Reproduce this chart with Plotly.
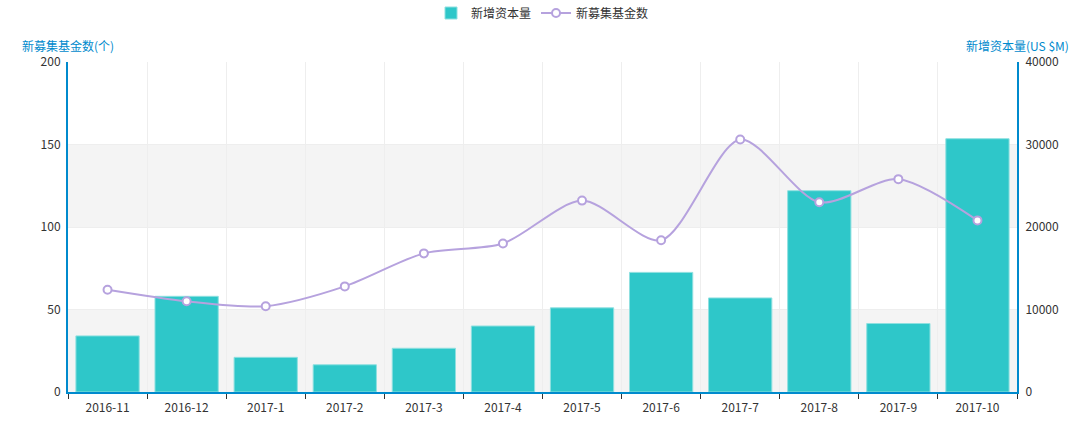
import plotly.graph_objects as go

categories = ["2016-11", "2016-12", "2017-1", "2017-2", "2017-3", "2017-4",
              "2017-5", "2017-6", "2017-7", "2017-8", "2017-9", "2017-10"]
capital = [6800, 11600, 4200, 3300, 5300, 8000, 10200, 14500, 11400, 24400, 8300, 30700]
fund_count = [62, 55, 52, 64, 84, 90, 116, 92, 153, 115, 129, 104]

bar_name = "新增资本量"
line_name = "新募集基金数"
left_title = "新募集基金数(个)"
right_title = "新增资本量(US $M)"

FONT = "Noto Sans CJK SC, Open Sans, sans-serif"
AXIS_BLUE = "#008acd"

fig = go.Figure()
fig.add_trace(go.Bar(
    x=categories, y=capital, name=bar_name, yaxis="y",
    marker=dict(color="#2ec7c9", line=dict(color="#8fe0e0", width=1)),
))
fig.add_trace(go.Scatter(
    x=categories, y=fund_count, name=line_name, yaxis="y2",
    mode="lines+markers",
    line=dict(color="#b6a2de", width=2, shape="spline", smoothing=0.8),
    marker=dict(symbol="circle", size=8, color="white",
                line=dict(color="#b6a2de", width=2)),
))

shapes = []
for lo, hi in [(0, 10000), (20000, 30000)]:
    shapes.append(dict(type="rect", xref="paper", yref="y", x0=0, x1=1,
                       y0=lo, y1=hi, fillcolor="#f4f4f4", line=dict(width=0),
                       layer="below"))

fig.update_layout(
    width=1083, height=437,
    margin=dict(l=68, r=66, t=62, b=45, autoexpand=False),
    paper_bgcolor="white", plot_bgcolor="white",
    font=dict(family=FONT, size=12, color="#333"),
    bargap=0.2,
    showlegend=True,
    legend=dict(orientation="h", x=0.5, xanchor="center",
                yref="container", y=1 - 13 / 437, yanchor="middle",
                font=dict(size=12, color="#333"), itemwidth=30),
    xaxis=dict(
        type="category", range=[-0.5, len(categories) - 0.5],
        tickson="boundaries", showgrid=True, gridcolor="#eee",
        showline=True, linecolor=AXIS_BLUE, linewidth=2,
        ticks="outside", ticklen=5, tickcolor="#333",
        ticklabelstandoff=4,
        tickfont=dict(size=12, color="#333"),
    ),
    yaxis=dict(
        side="right", range=[0, 40000], tickvals=[0, 10000, 20000, 30000, 40000],
        tickformat="d",
        showgrid=True, gridcolor="#eee", zeroline=False,
        showline=True, linecolor=AXIS_BLUE, linewidth=2,
        ticks="", ticklabelstandoff=4, tickfont=dict(size=12, color="#333"),
    ),
    yaxis2=dict(
        side="left", overlaying="y", range=[0, 200],
        tickvals=[0, 50, 100, 150, 200], showgrid=False, zeroline=False,
        showline=True, linecolor=AXIS_BLUE, linewidth=2,
        ticks="", ticklabelstandoff=3, tickfont=dict(size=12, color="#333"),
    ),
    shapes=shapes,
    annotations=[
        dict(text=left_title, xref="paper", yref="paper", x=0, y=1.05,
             xanchor="center", yanchor="middle", showarrow=False,
             font=dict(size=12, color=AXIS_BLUE)),
        dict(text=right_title, xref="paper", yref="paper", x=1, y=1.05,
             xanchor="center", yanchor="middle", showarrow=False,
             font=dict(size=12, color=AXIS_BLUE)),
    ],
)

fig.write_html("out.html")
